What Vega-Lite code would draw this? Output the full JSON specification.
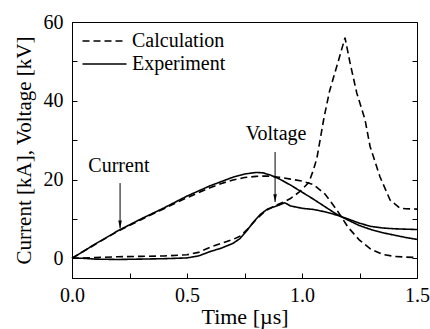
{
  "$schema": "https://vega.github.io/schema/vega-lite/v6.json",
  "width": 345,
  "height": 256,
  "autosize": {"type": "none"},
  "padding": {"left": 72, "top": 22, "right": 13, "bottom": 51},
  "background": "white",
  "config": {
    "view": {"stroke": "black", "strokeWidth": 1},
    "font": "Liberation Serif, Times New Roman, Times, serif",
    "axis": {"labelFont": "Liberation Serif, Times New Roman, Times, serif", "titleFont": "Liberation Serif, Times New Roman, Times, serif", "labelColor": "black", "titleColor": "black", "domainColor": "black", "tickColor": "black", "grid": false, "labelFontSize": 20, "titleFontSize": 21, "titleFontWeight": "normal"}
  },
  "datasets": {
    "curves": [
      {"t":0,"v":0,"s":"Ie","type":"Experiment"},{"t":0.05,"v":1.8,"s":"Ie","type":"Experiment"},{"t":0.1,"v":3.6,"s":"Ie","type":"Experiment"},{"t":0.2,"v":7.0,"s":"Ie","type":"Experiment"},{"t":0.3,"v":10.0,"s":"Ie","type":"Experiment"},{"t":0.4,"v":12.8,"s":"Ie","type":"Experiment"},{"t":0.5,"v":15.8,"s":"Ie","type":"Experiment"},{"t":0.6,"v":18.4,"s":"Ie","type":"Experiment"},{"t":0.65,"v":19.5,"s":"Ie","type":"Experiment"},{"t":0.7,"v":20.6,"s":"Ie","type":"Experiment"},{"t":0.75,"v":21.4,"s":"Ie","type":"Experiment"},{"t":0.8,"v":21.8,"s":"Ie","type":"Experiment"},{"t":0.83,"v":21.7,"s":"Ie","type":"Experiment"},{"t":0.86,"v":21.2,"s":"Ie","type":"Experiment"},{"t":0.9,"v":20.2,"s":"Ie","type":"Experiment"},{"t":0.95,"v":18.6,"s":"Ie","type":"Experiment"},{"t":1.0,"v":16.8,"s":"Ie","type":"Experiment"},{"t":1.05,"v":15.0,"s":"Ie","type":"Experiment"},{"t":1.1,"v":13.1,"s":"Ie","type":"Experiment"},{"t":1.15,"v":11.2,"s":"Ie","type":"Experiment"},{"t":1.2,"v":9.7,"s":"Ie","type":"Experiment"},{"t":1.25,"v":8.3,"s":"Ie","type":"Experiment"},{"t":1.3,"v":7.3,"s":"Ie","type":"Experiment"},{"t":1.35,"v":6.5,"s":"Ie","type":"Experiment"},{"t":1.4,"v":5.9,"s":"Ie","type":"Experiment"},{"t":1.45,"v":5.3,"s":"Ie","type":"Experiment"},{"t":1.5,"v":4.8,"s":"Ie","type":"Experiment"},
      {"t":0,"v":0,"s":"Ic","type":"Calculation"},{"t":0.1,"v":3.5,"s":"Ic","type":"Calculation"},{"t":0.2,"v":6.9,"s":"Ic","type":"Calculation"},{"t":0.3,"v":9.8,"s":"Ic","type":"Calculation"},{"t":0.4,"v":12.6,"s":"Ic","type":"Calculation"},{"t":0.5,"v":15.4,"s":"Ic","type":"Calculation"},{"t":0.6,"v":17.9,"s":"Ic","type":"Calculation"},{"t":0.65,"v":19.0,"s":"Ic","type":"Calculation"},{"t":0.7,"v":19.9,"s":"Ic","type":"Calculation"},{"t":0.75,"v":20.5,"s":"Ic","type":"Calculation"},{"t":0.8,"v":20.8,"s":"Ic","type":"Calculation"},{"t":0.85,"v":20.9,"s":"Ic","type":"Calculation"},{"t":0.9,"v":20.6,"s":"Ic","type":"Calculation"},{"t":0.95,"v":20.1,"s":"Ic","type":"Calculation"},{"t":1.0,"v":19.6,"s":"Ic","type":"Calculation"},{"t":1.05,"v":18.7,"s":"Ic","type":"Calculation"},{"t":1.1,"v":16.3,"s":"Ic","type":"Calculation"},{"t":1.15,"v":12.4,"s":"Ic","type":"Calculation"},{"t":1.2,"v":7.9,"s":"Ic","type":"Calculation"},{"t":1.25,"v":4.6,"s":"Ic","type":"Calculation"},{"t":1.3,"v":2.3,"s":"Ic","type":"Calculation"},{"t":1.35,"v":1.0,"s":"Ic","type":"Calculation"},{"t":1.4,"v":0.5,"s":"Ic","type":"Calculation"},{"t":1.45,"v":0.3,"s":"Ic","type":"Calculation"},{"t":1.5,"v":0.2,"s":"Ic","type":"Calculation"},
      {"t":0,"v":0,"s":"Ve","type":"Experiment"},{"t":0.05,"v":0,"s":"Ve","type":"Experiment"},{"t":0.1,"v":-0.2,"s":"Ve","type":"Experiment"},{"t":0.2,"v":-0.3,"s":"Ve","type":"Experiment"},{"t":0.3,"v":-0.2,"s":"Ve","type":"Experiment"},{"t":0.4,"v":-0.1,"s":"Ve","type":"Experiment"},{"t":0.5,"v":0.1,"s":"Ve","type":"Experiment"},{"t":0.55,"v":0.6,"s":"Ve","type":"Experiment"},{"t":0.6,"v":1.7,"s":"Ve","type":"Experiment"},{"t":0.65,"v":2.6,"s":"Ve","type":"Experiment"},{"t":0.7,"v":3.8,"s":"Ve","type":"Experiment"},{"t":0.73,"v":5.0,"s":"Ve","type":"Experiment"},{"t":0.76,"v":7.0,"s":"Ve","type":"Experiment"},{"t":0.79,"v":9.3,"s":"Ve","type":"Experiment"},{"t":0.82,"v":11.2,"s":"Ve","type":"Experiment"},{"t":0.85,"v":12.5,"s":"Ve","type":"Experiment"},{"t":0.88,"v":13.1,"s":"Ve","type":"Experiment"},{"t":0.9,"v":13.5,"s":"Ve","type":"Experiment"},{"t":0.925,"v":14.1,"s":"Ve","type":"Experiment"},{"t":0.95,"v":13.3,"s":"Ve","type":"Experiment"},{"t":1.0,"v":12.7,"s":"Ve","type":"Experiment"},{"t":1.05,"v":12.4,"s":"Ve","type":"Experiment"},{"t":1.1,"v":11.8,"s":"Ve","type":"Experiment"},{"t":1.15,"v":11.0,"s":"Ve","type":"Experiment"},{"t":1.2,"v":10.0,"s":"Ve","type":"Experiment"},{"t":1.25,"v":8.9,"s":"Ve","type":"Experiment"},{"t":1.3,"v":8.1,"s":"Ve","type":"Experiment"},{"t":1.35,"v":7.7,"s":"Ve","type":"Experiment"},{"t":1.4,"v":7.5,"s":"Ve","type":"Experiment"},{"t":1.45,"v":7.4,"s":"Ve","type":"Experiment"},{"t":1.5,"v":7.3,"s":"Ve","type":"Experiment"},
      {"t":0,"v":0,"s":"Vc","type":"Calculation"},{"t":0.1,"v":0.2,"s":"Vc","type":"Calculation"},{"t":0.2,"v":0.4,"s":"Vc","type":"Calculation"},{"t":0.3,"v":0.5,"s":"Vc","type":"Calculation"},{"t":0.4,"v":0.6,"s":"Vc","type":"Calculation"},{"t":0.5,"v":0.9,"s":"Vc","type":"Calculation"},{"t":0.55,"v":1.5,"s":"Vc","type":"Calculation"},{"t":0.6,"v":2.8,"s":"Vc","type":"Calculation"},{"t":0.65,"v":3.8,"s":"Vc","type":"Calculation"},{"t":0.7,"v":4.8,"s":"Vc","type":"Calculation"},{"t":0.73,"v":5.6,"s":"Vc","type":"Calculation"},{"t":0.76,"v":7.2,"s":"Vc","type":"Calculation"},{"t":0.8,"v":9.8,"s":"Vc","type":"Calculation"},{"t":0.84,"v":12.0,"s":"Vc","type":"Calculation"},{"t":0.88,"v":13.3,"s":"Vc","type":"Calculation"},{"t":0.92,"v":14.3,"s":"Vc","type":"Calculation"},{"t":0.95,"v":15.2,"s":"Vc","type":"Calculation"},{"t":0.99,"v":16.9,"s":"Vc","type":"Calculation"},{"t":1.03,"v":19.3,"s":"Vc","type":"Calculation"},{"t":1.05,"v":22.5,"s":"Vc","type":"Calculation"},{"t":1.065,"v":25.5,"s":"Vc","type":"Calculation"},{"t":1.08,"v":30.5,"s":"Vc","type":"Calculation"},{"t":1.095,"v":35.5,"s":"Vc","type":"Calculation"},{"t":1.12,"v":42.5,"s":"Vc","type":"Calculation"},{"t":1.155,"v":49.5,"s":"Vc","type":"Calculation"},{"t":1.187,"v":56.0,"s":"Vc","type":"Calculation"},{"t":1.209,"v":49.6,"s":"Vc","type":"Calculation"},{"t":1.238,"v":42.0,"s":"Vc","type":"Calculation"},{"t":1.274,"v":35.2,"s":"Vc","type":"Calculation"},{"t":1.296,"v":28.4,"s":"Vc","type":"Calculation"},{"t":1.339,"v":20.7,"s":"Vc","type":"Calculation"},{"t":1.383,"v":14.8,"s":"Vc","type":"Calculation"},{"t":1.426,"v":12.7,"s":"Vc","type":"Calculation"},{"t":1.45,"v":12.6,"s":"Vc","type":"Calculation"},{"t":1.5,"v":12.5,"s":"Vc","type":"Calculation"}
    ],
    "arrows": [
      {"t": 0.209, "top": 19.1, "tip": 7.6},
      {"t": 0.883, "top": 27.0, "tip": 14.3}
    ],
    "labels": [
      {"t": 0.204, "v": 21.9, "text": "Current"},
      {"t": 0.887, "v": 30.1, "text": "Voltage"}
    ]
  },
  "resolve": {"scale": {"y": "shared", "x": "shared"}, "axis": {"y": "independent"}},
  "layer": [
    {
      "data": {"name": "curves"},
      "mark": {"type": "line", "color": "black", "strokeWidth": 1.6},
      "encoding": {
        "x": {"field": "t", "type": "quantitative", "scale": {"domain": [0, 1.5], "nice": false, "zero": false},
          "axis": {"title": "Time [µs]", "values": [0, 0.25, 0.5, 0.75, 1.0, 1.25, 1.5], "labelExpr": "(datum.value * 4) % 2 === 0 ? format(datum.value, '.1f') : ''", "tickSize": -5, "labelPadding": 12.5, "titlePadding": 1, "titleFontSize": 22, "labelFlush": false, "domain": true}},
        "y": {"field": "v", "type": "quantitative", "scale": {"domain": [-5, 60], "nice": false, "zero": false},
          "axis": {"title": "Current [kA], Voltage [kV]", "orient": "left", "values": [0, 10, 20, 30, 40, 50, 60], "labelExpr": "datum.value % 20 === 0 ? format(datum.value, 'd') : ''", "tickSize": -5, "labelPadding": 14, "titlePadding": 9, "labelFlush": false}},
        "detail": {"field": "s"},
        "strokeDash": {"field": "type", "type": "nominal", "scale": {"domain": ["Calculation", "Experiment"], "range": [[7, 4], [1, 0]]},
          "legend": {"title": null, "orient": "none", "legendX": 20.5, "legendY": 7, "symbolType": "M-2,0L2,0", "symbolSize": 484, "symbolFillColor": "transparent", "symbolStrokeColor": "black", "symbolStrokeWidth": 1.6, "labelFont": "Liberation Serif, Times New Roman, Times, serif", "labelFontSize": 20, "labelColor": "black", "labelOffset": 15.5, "rowPadding": 1, "padding": 0}}
      }
    },
    {
      "data": {"name": "arrows"},
      "mark": {"type": "rule", "color": "black", "strokeWidth": 1},
      "encoding": {
        "x": {"field": "t", "type": "quantitative"},
        "y": {"field": "top", "type": "quantitative",
          "axis": {"orient": "right", "title": null, "labels": false, "values": [0, 10, 20, 30, 40, 50, 60], "tickSize": -5, "domain": false}},
        "y2": {"field": "tip"}
      }
    },
    {
      "data": {"name": "arrows"},
      "mark": {"type": "point", "shape": "M-0.6,-2.6 L0,0 L0.6,-2.6 Z", "filled": true, "color": "black", "size": 36, "opacity": 1},
      "encoding": {
        "x": {"field": "t", "type": "quantitative"},
        "y": {"field": "tip", "type": "quantitative", "axis": null}
      }
    },
    {
      "data": {"name": "labels"},
      "mark": {"type": "text", "font": "Liberation Serif, Times New Roman, Times, serif", "fontSize": 20, "color": "black", "align": "center", "baseline": "alphabetic"},
      "encoding": {
        "x": {"field": "t", "type": "quantitative"},
        "y": {"field": "v", "type": "quantitative", "axis": null},
        "text": {"field": "text"}
      }
    }
  ]
}
